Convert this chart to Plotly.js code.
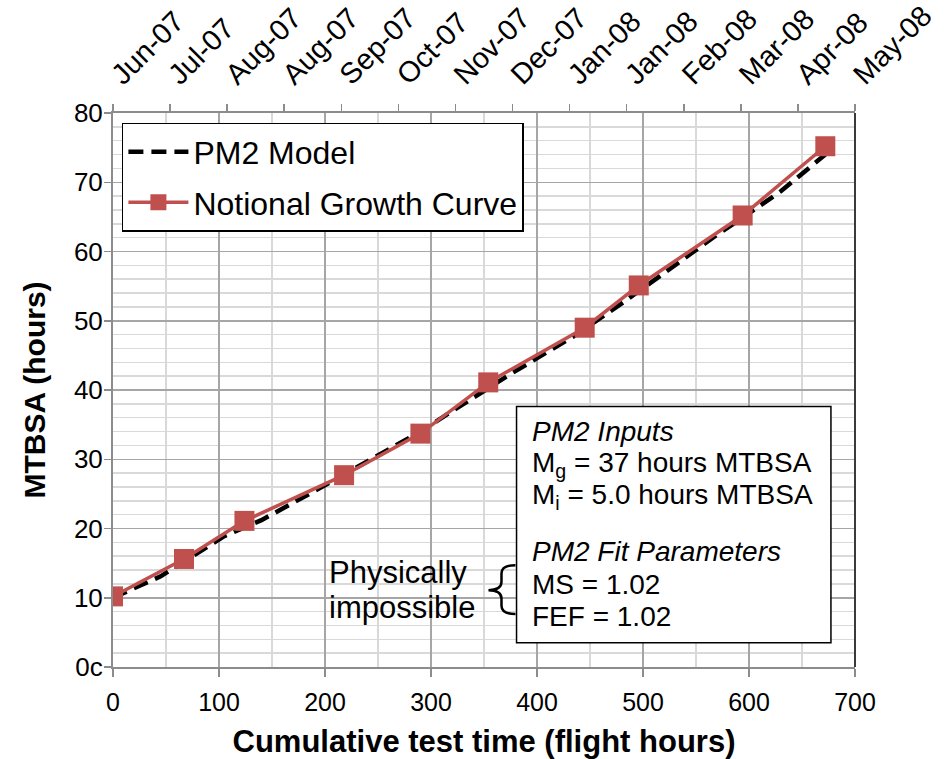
<!DOCTYPE html>
<html>
<head>
<meta charset="utf-8">
<script src="https://cdn.plot.ly/plotly-3.0.1.min.js"></script>
<style>html,body{margin:0;padding:0;background:#fff;}#chart{width:945px;height:759px;}</style>
</head>
<body>
<div id="chart"></div>
<script>
// ---- data ----
const growthHours = [0, 67, 124, 218, 290, 354, 445, 496, 594, 672];
const growthMTBSA = [10.2, 15.6, 21.1, 27.7, 33.7, 41.1, 49.0, 55.1, 65.2, 75.2];

const pm2Hours = [0, 45, 105, 140, 190, 240, 290, 340, 375, 435, 480, 520, 565, 595, 630, 672];
const pm2MTBSA = [10.0, 13.1, 18.9, 21.2, 25.4, 29.7, 34.0, 38.9, 42.3, 47.8, 52.5, 56.9, 61.9, 65.0, 68.7, 74.0];

const monthLabels = ['Jun-07','Jul-07','Aug-07','Aug-07','Sep-07','Oct-07','Nov-07','Dec-07',
                     'Jan-08','Jan-08','Feb-08','Mar-08','Apr-08','May-08'];
const yTickVals = [0, 10, 20, 30, 40, 50, 60, 70, 80];
const yTickText = ['0c', '10', '20', '30', '40', '50', '60', '70', '80'];

const seriesNames = ['PM2 Model', 'Notional Growth Curve'];
const xTitle = 'Cumulative test time (flight hours)';
const yTitle = 'MTBSA (hours)';
const boxLines = ['<i>PM2 Inputs</i>', 'M<sub>g</sub> = 37 hours MTBSA', 'M<sub>i</sub> = 5.0 hours MTBSA',
                  '<i>PM2 Fit Parameters</i>', 'MS = 1.02', 'FEF = 1.02'];
const noteLines = ['Physically', 'impossible'];

// ---- chart ----
const FONT = 'Liberation Sans, Arial, sans-serif';
const RED = '#C0504D';

const traces = [
  {
    x: pm2Hours, y: pm2MTBSA, name: seriesNames[0], type: 'scatter', mode: 'lines',
    line: {color: '#000000', width: 4.5, dash: '15px,8px'},
    legendgroup: 'a', hoverinfo: 'skip'
  },
  {
    x: growthHours, y: growthMTBSA, name: seriesNames[1], type: 'scatter', mode: 'lines+markers',
    line: {color: RED, width: 3.5},
    marker: {symbol: 'square', size: 20, color: RED},
    legendgroup: 'b', hoverinfo: 'skip'
  },
  {
    // carries the top month axis
    x: monthLabels.map((_, i) => i), y: monthLabels.map(() => null),
    xaxis: 'x2', yaxis: 'y', type: 'scatter', mode: 'lines',
    showlegend: false, hoverinfo: 'skip'
  }
];

// annotation box geometry (data coordinates of the main axes)
const boxX0 = 380.7, boxX1 = 677.3, boxY0 = 3.5, boxY1 = 37.6;
const boxTextX = 393;
const boxTextY = [34.0, 29.2, 24.6, 16.7, 11.9, 7.3];

const annotations = boxLines.map((t, i) => ({
  x: boxTextX, y: boxTextY[i], xref: 'x', yref: 'y', text: t, showarrow: false,
  xanchor: 'left', yanchor: 'middle', align: 'left',
  font: {family: FONT, size: 28, color: '#000'}
}));
const noteY = [13.6, 8.6];
noteLines.forEach((t, i) => annotations.push({
  x: 202, y: noteY[i], xref: 'x', yref: 'y', text: t, showarrow: false,
  xanchor: 'left', yanchor: 'middle', align: 'left',
  font: {family: FONT, size: 31, color: '#000'}
}));

const shapes = [
  {type: 'rect', xref: 'x', yref: 'y', x0: boxX0, x1: boxX1, y0: boxY0, y1: boxY1,
   line: {color: '#000', width: 1.5}, fillcolor: '#ffffff', layer: 'above'},
  {type: 'path', xref: 'x', yref: 'y', layer: 'above',
   path: 'M 379.7,14.7 Q 366.5,14.7 366.5,13.5 L 366.5,12.3 Q 366.5,11.1 354.2,11.1 ' +
         'Q 366.5,11.1 366.5,9.9 L 366.5,8.85 Q 366.5,7.65 379.7,7.65',
   line: {color: '#000', width: 2.5}},
  {type: 'line', xref: 'paper', yref: 'paper', x0: 1, x1: 1, y0: 0, y1: 1,
   line: {color: '#3a3a3a', width: 2}}
];

const layout = {
  width: 945, height: 759,
  margin: {l: 113, r: 90, t: 113, b: 92, pad: 0},
  paper_bgcolor: '#ffffff', plot_bgcolor: '#ffffff',
  font: {family: FONT, color: '#000'},
  showlegend: true,
  legend: {
    x: 0.012, y: 0.982, xanchor: 'left', yanchor: 'top',
    bgcolor: '#ffffff', bordercolor: '#000000', borderwidth: 1.5,
    font: {family: FONT, size: 32, color: '#000'},
    tracegroupgap: 6, itemwidth: 60
  },
  xaxis: {
    range: [0, 700], tick0: 0, dtick: 100, zeroline: false,
    ticks: 'outside', ticklen: 8, tickwidth: 1.5, tickcolor: '#8c8c8c',
    showline: true, linecolor: '#8c8c8c', linewidth: 2,
    showgrid: true, gridcolor: '#a6a6a6', gridwidth: 1.5,
    minor: {dtick: 50, showgrid: true, gridcolor: '#d9d9d9', gridwidth: 1.5, ticks: ''},
    ticklabelstandoff: 4,
    tickfont: {family: FONT, size: 25, color: '#000'},
    title: {text: xTitle, font: {family: FONT, size: 31, weight: 'bold', color: '#000'}, standoff: 16}
  },
  xaxis2: {
    overlaying: 'x', side: 'top', range: [0, monthLabels.length - 1],
    tickmode: 'array', tickvals: monthLabels.map((_, i) => i), ticktext: monthLabels,
    tickangle: -45, ticks: 'outside', ticklen: 7, tickwidth: 1.5, tickcolor: '#8c8c8c',
    showline: true, linecolor: '#8c8c8c', linewidth: 2, showgrid: false, zeroline: false,
    ticklabelstandoff: 2,
    tickfont: {family: FONT, size: 29, color: '#000'}
  },
  yaxis: {
    range: [0, 80], tickmode: 'array', tickvals: yTickVals, ticktext: yTickText, zeroline: false,
    ticks: 'outside', ticklen: 7, tickwidth: 1.5, tickcolor: '#8c8c8c',
    showline: true, linecolor: '#8c8c8c', linewidth: 2,
    showgrid: true, gridcolor: '#a6a6a6', gridwidth: 1.5,
    minor: {dtick: 2, showgrid: true, gridcolor: '#d9d9d9', gridwidth: 1.5, ticks: ''},
    ticklabelstandoff: -4,
    tickfont: {family: FONT, size: 26, color: '#000'},
    title: {text: yTitle, font: {family: FONT, size: 30, weight: 'bold', color: '#000'}, standoff: 19}
  },
  shapes: shapes,
  annotations: annotations
};

Plotly.newPlot('chart', traces, layout, {staticPlot: true, displayModeBar: false});
</script>
</body>
</html>
